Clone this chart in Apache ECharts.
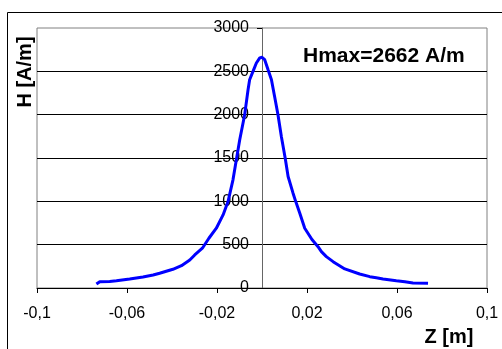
<!DOCTYPE html>
<html>
<head>
<meta charset="utf-8">
<script src="https://cdn.jsdelivr.net/npm/echarts@6/dist/echarts.min.js"></script>
<style>html,body{margin:0;padding:0;background:#fff;}#chart{width:502px;height:349px;}</style>
</head>
<body>
<div id="chart"></div>
<script>
var zValues = [-0.0736,-0.0721,-0.0677,-0.0647,-0.0588,-0.0529,-0.0484,-0.0455,-0.0396,-0.0358,-0.0321,-0.0299,-0.0265,-0.0236,-0.0203,-0.0173,-0.0151,-0.0129,-0.0114,-0.0099,-0.0077,-0.0062,-0.0055,-0.0040,-0.0025,-0.0010,0.0000,0.0012,0.0027,0.0042,0.0056,0.0071,0.0086,0.0103,0.0116,0.0138,0.0150,0.0168,0.0190,0.0222,0.0249,0.0264,0.0286,0.0316,0.0368,0.0434,0.0479,0.0508,0.0538,0.0597,0.0635,0.0671,0.0738];
var hValues = [46,73,76,84,104,128,150,170,216,258,323,381,459,574,690,843,997,1248,1479,1710,2000,2287,2403,2499,2596,2655,2662,2634,2518,2403,2210,2000,1748,1500,1286,1094,997,863,690,560,477,419,362,304,220,162,131,119,104,84,72,58,54];
var xTicks = [-0.1,-0.06,-0.02,0.02,0.06,0.1];
var yMin = 0, yMax = 3000, yStep = 500;
var xName = 'Z [m]', yName = 'H [A/m]', note = 'Hmax=2662 A/m';

var FONT = '"Liberation Sans", Arial, sans-serif';
var GL = 37, GR = 15, W = 502;
var chart = echarts.init(document.getElementById('chart'), null, {renderer:'canvas'});
var data = zValues.map(function(z,i){return [z,hValues[i]];});
chart.setOption({
  animation:false,
  backgroundColor:'#fff',
  grid:{left:GL,right:GR,top:28,bottom:61,containLabel:false,outerBoundsMode:'none',show:true,borderColor:'#808080',borderWidth:1,backgroundColor:'transparent'},
  xAxis:{type:'value',min:-0.1,max:0.1,
    axisLine:{show:true,onZero:false,lineStyle:{color:'#000',width:1}},
    axisTick:{show:true,customValues:xTicks,length:5,lineStyle:{color:'#000'}},
    axisLabel:{customValues:xTicks,margin:18,color:'#000',fontFamily:FONT,fontSize:16,
      formatter:function(v){return String(Math.round(v*100)/100).replace('.',',');}},
    splitLine:{show:false}},
  yAxis:{type:'value',min:yMin,max:yMax,interval:yStep,
    offset:-(W-GL-GR)/2,
    axisLine:{show:true,onZero:false,lineStyle:{color:'#666',width:1}},
    axisTick:{show:true,length:5,lineStyle:{color:'#000'}},
    axisLabel:{margin:13,color:'#000',fontFamily:FONT,fontSize:16,formatter:function(v){return String(v);}},
    splitLine:{show:true,showMinLine:false,showMaxLine:false,lineStyle:{color:'#000',width:1}}},
  series:[{type:'line',data:data,showSymbol:false,smooth:false,lineStyle:{color:'#0000ff',width:3},z:5}],
  graphic:[
    {type:'rect',shape:{x:7.5,y:12.5,width:600,height:400},style:{fill:'none',stroke:'#000',lineWidth:1},silent:true},
    {type:'text',x:25,y:72,rotation:Math.PI/2,style:{text:yName,fontFamily:FONT,fontWeight:'bold',fontSize:20,fill:'#000',align:'center',verticalAlign:'middle'}},
    {type:'text',x:449,y:337,style:{text:xName,fontFamily:FONT,fontWeight:'bold',fontSize:20,fill:'#000',align:'center',verticalAlign:'middle'}},
    {type:'text',x:303,y:56,style:{text:note,fontFamily:FONT,fontWeight:'bold',fontSize:21,fill:'#000',align:'left',verticalAlign:'middle'}}
  ]
});
</script>
</body>
</html>
